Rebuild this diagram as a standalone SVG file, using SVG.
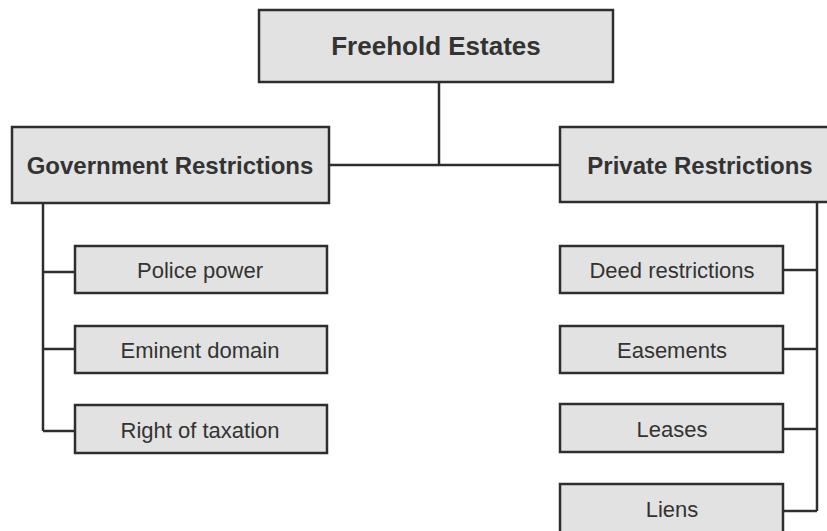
<svg xmlns="http://www.w3.org/2000/svg" width="827" height="531" viewBox="0 0 827 531">
<style>
.box{fill:#e2e2e2;stroke:#2e2e2e;stroke-width:2.5}
.ln{fill:none;stroke:#2e2e2e;stroke-width:2.5}
.t1{font-family:"Liberation Sans",Arial,sans-serif;font-weight:bold;font-size:26px;fill:#333;text-anchor:middle}
.t2{font-family:"Liberation Sans",Arial,sans-serif;font-weight:bold;font-size:24px;fill:#333;text-anchor:middle}
.t3{font-family:"Liberation Sans",Arial,sans-serif;font-size:22px;fill:#333;text-anchor:middle}
</style>
<rect width="827" height="531" fill="#fff"/>
<g id="connectors">
<path class="ln" d="M439 82V165M329 165H560"/>
<path class="ln" d="M43 203V431M43 272H75M43 349H75M43 431H75"/>
<path class="ln" d="M817 202V511M783 270H817M783 349H817M783 429H817M783 511H817"/>
</g>
<g id="freehold"><rect class="box" x="259" y="10" width="354" height="72"/><text class="t1" x="436" y="55">Freehold Estates</text></g>
<g id="gov"><rect class="box" x="12" y="127" width="317" height="76"/><text class="t2" x="170" y="174">Government Restrictions</text></g>
<g id="private"><rect class="box" x="560" y="127" width="280" height="75"/><text class="t2" x="700" y="174">Private Restrictions</text></g>
<g id="police"><rect class="box" x="75" y="246" width="252" height="47"/><text class="t3" x="200" y="278">Police power</text></g>
<g id="eminent"><rect class="box" x="75" y="326" width="252" height="47"/><text class="t3" x="200" y="358">Eminent domain</text></g>
<g id="taxation"><rect class="box" x="75" y="405" width="252" height="48"/><text class="t3" x="200" y="438">Right of taxation</text></g>
<g id="deed"><rect class="box" x="560" y="246" width="223" height="47"/><text class="t3" x="672" y="278">Deed restrictions</text></g>
<g id="easements"><rect class="box" x="560" y="326" width="223" height="47"/><text class="t3" x="672" y="358">Easements</text></g>
<g id="leases"><rect class="box" x="560" y="404" width="223" height="48"/><text class="t3" x="672" y="437">Leases</text></g>
<g id="liens"><rect class="box" x="560" y="484" width="223" height="60"/><text class="t3" x="672" y="517">Liens</text></g>
</svg>
